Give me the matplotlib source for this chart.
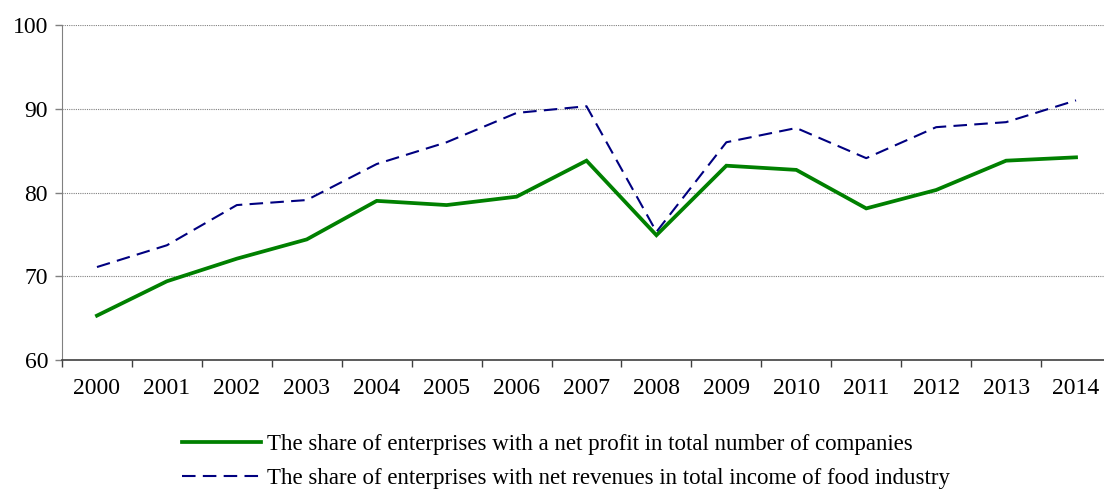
import matplotlib.pyplot as plt
import numpy as np

years = [str(y) for y in range(2000, 2015)]
profit_share = [65.3, 69.4, 72.1, 74.4, 79.0, 78.5, 79.5, 83.8, 74.9, 83.2, 82.7, 78.1, 80.3, 83.8, 84.2]
revenue_share = [71.1, 73.7, 78.5, 79.1, 83.4, 86.0, 89.5, 90.3, 75.3, 86.0, 87.7, 84.1, 87.8, 88.4, 91.0]

label_profit = 'The share of enterprises with a net profit in total number of companies'
label_revenue = 'The share of enterprises with net revenues in total income of food industry'

plt.rcParams['font.family'] = ['Liberation Serif', 'DejaVu Serif']

W, H = 1104, 490
fig = plt.figure(figsize=(W / 100, H / 100), dpi=100)
# axes run past the right edge like in the original
ax = fig.add_axes([62 / W, 1 - 360 / H, (1111 - 62) / W, (360 - 25) / H])

x = np.arange(len(years))
ax.plot(x, profit_share, color='#008000', lw=2.7, label=label_profit, solid_joinstyle='miter')
ax.plot(x, revenue_share, color='#000080', lw=1.5, ls=(0, (6.5, 3.5)), label=label_revenue)

ax.set_xlim(-0.5, len(years) - 0.5)
ax.set_ylim(60, 100)
ax.set_yticks([60, 70, 80, 90, 100])
ax.set_xticks(x)
ax.set_xticklabels(years)
ax.set_xticks(np.arange(-0.5, len(years), 1), minor=True)
ax.tick_params(axis='x', which='major', length=0, pad=13, labelsize=17)
ax.tick_params(axis='x', which='minor', length=5, width=1, color='#404040', direction='out')
ax.tick_params(axis='y', length=5, width=1, color='#808080', labelsize=17, pad=5)

ax.grid(axis='y', color='#808080', ls=(0, (1, 1)), lw=0.8)
ax.set_axisbelow(True)
for s in ['top', 'right']:
    ax.spines[s].set_visible(False)
ax.spines['left'].set_color('#808080')
ax.spines['bottom'].set_color('#404040')
ax.spines['bottom'].set_linewidth(1.2)

handles, labels = ax.get_legend_handles_labels()
fig.legend(handles, labels, loc='upper left', bbox_to_anchor=(182 / W, 1 - 434 / H),
           frameon=False, fontsize=16.5, handlelength=3.45, handletextpad=0.25,
           labelspacing=0.55, borderpad=0, borderaxespad=0)

fig.savefig('out.png', dpi=100)
